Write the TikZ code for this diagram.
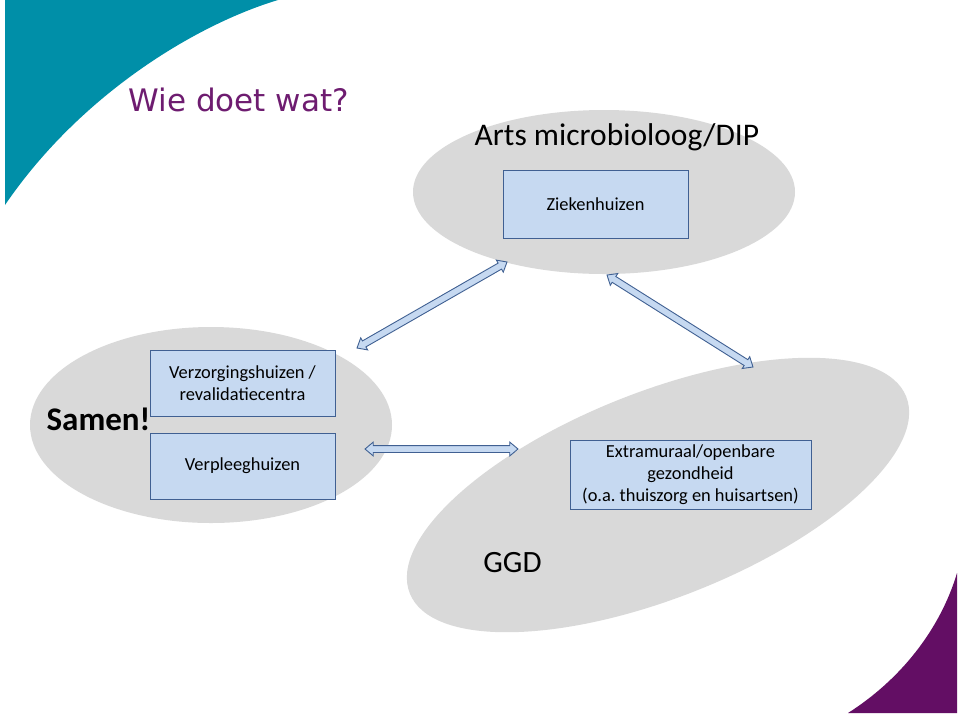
\documentclass[tikz,border=0pt]{standalone}
\usepackage{fontspec}
\setmainfont{Carlito}
\newfontfamily\titlefont{DejaVu Sans}
\usetikzlibrary{shapes.geometric,shapes.arrows,positioning,calc}
\frenchspacing

\definecolor{cornerteal}{RGB}{0,143,168}
\definecolor{cornerpurple}{RGB}{99,14,100}
\definecolor{titlepurple}{RGB}{110,28,112}
\definecolor{ovalgray}{RGB}{217,217,217}
\definecolor{boxfill}{RGB}{198,217,241}
\definecolor{boxedge}{RGB}{64,96,146}

\begin{document}
\begin{tikzpicture}[x=1pt,y=-1pt,
	oval/.style={ellipse,fill=ovalgray,inner sep=0pt},
	box/.style={draw=boxedge,fill=boxfill,line width=1pt,align=center,inner sep=2pt,
		font=\fontsize{18.4}{22}\selectfont,minimum width=185pt,minimum height=67pt},
	blockarrow/.style={to path={let \p1=(\tikztostart),\p2=(\tikztotarget),
		\n1={atan2(\y2-\y1,\x2-\x1)},\n2={veclen(\x2-\x1,\y2-\y1)} in
		node[double arrow,draw=boxedge,fill=boxfill,line width=0.9pt,inner sep=3pt,
		font=\fontsize{1}{1}\selectfont,double arrow head extend=3.5pt,double arrow tip angle=80,
		minimum height=\n2,rotate=\n1] at ($(\tikztostart)!.5!(\tikztotarget)$) {}}}]
		\useasboundingbox (0,0) rectangle (960,716);
		\fill[white] (0,0) rectangle (960,716);
		% corner shapes
		\fill[cornerteal] (5,0) -- (278,0) .. controls (195,25) and (80,95) .. (5,205) -- cycle;
		\fill[cornerpurple] (957,573) .. controls (940,630) and (900,680) .. (848,713) -- (957,713) -- cycle;
		\node[anchor=base west,text=titlepurple,font=\titlefont\fontsize{31}{31}\selectfont] (title) at (125,111) {Wie doet wat?};
		% ovals
		\node[oval,minimum width=382pt,minimum height=164pt] (zhoval) at (604,192) {};
		\node[oval,minimum width=362pt,minimum height=196pt] (vvtoval) at (211,425) {};
		\node[oval,minimum width=534pt,minimum height=206pt,rotate=21.6] (ggdoval) at (658,495) {};
		% labels
		\node[anchor=base,font=\fontsize{31.5}{31.5}\selectfont] (arts) at (617,145) {Arts microbioloog/DIP};
		\node[anchor=base,font=\bfseries\fontsize{33}{33}\selectfont] (samen) at (98.5,430) {Samen!};
		\node[anchor=base,font=\fontsize{31}{31}\selectfont] (ggd) at (512.5,572) {GGD};
		% boxes
		\node[box,minimum height=68pt] (zkh) at (595.5,204) {Ziekenhuizen};
		\node[box,minimum height=66pt] (verz) at (242.5,383) {Verzorgingshuizen /\\revalidatiecentra};
		\node[box,minimum height=66pt,below=16pt of verz] (verpl) {Verpleeghuizen};
		\node[box,minimum width=241pt,minimum height=69pt] (extra) at (690.5,474.5) {Extramuraal/openbare\\gezondheid\\(o.a. thuiszorg en huisartsen)};
		% arrows
		\coordinate (a1) at (357,348);
		\coordinate (a2) at (507,262);
		\coordinate (b1) at (607,275);
		\coordinate (b2) at (753,367);
		\coordinate (c1) at (365,449);
		\coordinate (c2) at (518,449);
		\path (a1) to[blockarrow] (a2);
		\path (b1) to[blockarrow] (b2);
		\path (c1) to[blockarrow] (c2);
\end{tikzpicture}
\end{document}
